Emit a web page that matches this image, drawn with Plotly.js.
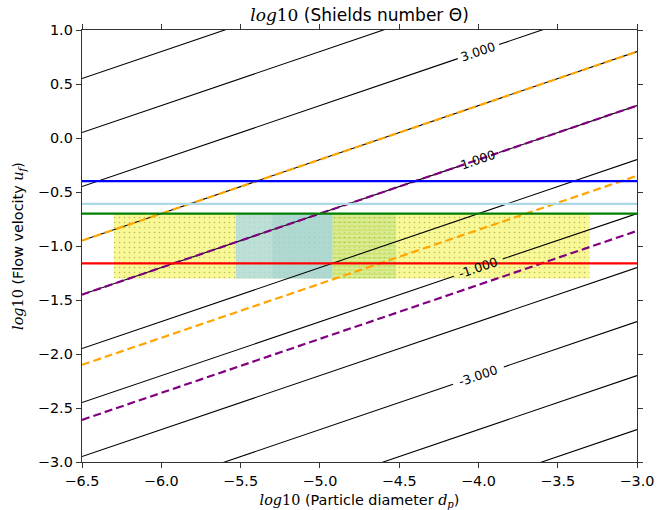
<!DOCTYPE html>
<html>
<head>
<meta charset="utf-8">
<script src="https://cdn.plot.ly/plotly-3.0.1.min.js"></script>
<style>html,body{margin:0;padding:0;background:#fff;}#chart{width:666px;height:510px;}</style>
</head>
<body>
<div id="chart"></div>
<script>
// ---- Contour lines of log10(Shields number) ----
const contourLevels = [-5, -4, -3, -2, -1, 0, 1, 2, 3, 4, 5];
const contourXLeft = [-6.5, -6.5, -6.5, -6.5, -6.5, -6.5, -6.5, -6.5, -6.5, -6.5, -6.5];
const contourYLeft = [-4.45, -3.95, -3.45, -2.95, -2.45, -1.95, -1.45, -0.95, -0.45, 0.05, 0.55];
const contourXRight = [-3.0, -3.0, -3.0, -3.0, -3.0, -3.0, -3.0, -3.0, -3.0, -3.0, -3.0];
const contourYRight = [-2.7, -2.2, -1.7, -1.2, -0.7, -0.2, 0.3, 0.8, 1.3, 1.8, 2.3];

// contour labels and the gaps they cut in their lines
const labelLevels = [3, 1, -1, -3];
const labelText = ['3.000', '1.000', '-1.000', '-3.000'];
const labelX = [-4.0, -4.0, -4.0, -4.0];
const labelY = [0.8, -0.2, -1.2, -2.2];
const gapX0 = [-4.13, -4.13, -4.155, -4.16];
const gapY0 = [0.735, -0.265, -1.28, -2.28];
const gapX1 = [-3.87, -3.87, -3.847, -3.84];
const gapY1 = [0.865, -0.135, -1.12, -2.12];

// ---- Dashed lines ----
const dashNames = ['orange upper', 'orange lower', 'purple upper', 'purple lower'];
const dashColors = ['orange', 'orange', 'purple', 'purple'];
const dashX0 = [-6.5, -6.5, -6.5, -6.5];
const dashY0 = [-0.95, -2.1, -1.45, -2.61];
const dashX1 = [-3.0, -3.0, -3.0, -3.0];
const dashY1 = [0.8, -0.35, 0.3, -0.86];

// ---- Horizontal flow-velocity lines ----
const hLineY = [-0.4, -0.61, -0.7, -1.16];
const hLineColors = ['#0000ff', '#add8e6', '#008000', '#ff0000'];
const hLineX0 = -6.5, hLineX1 = -3.0;

// ---- Shaded regions (x0, x1, y0, y1) ----
const regionNames = ['yellow', 'light teal', 'teal', 'green'];
const regionX0 = [-6.3, -5.53, -5.3, -4.92];
const regionX1 = [-3.3, -4.92, -4.92, -4.52];
const regionY0 = [-1.3, -1.3, -1.3, -1.3];
const regionY1 = [-0.7, -0.7, -0.7, -0.7];
const regionFill = ['rgb(248,248,150)', 'rgba(173,216,230,0.8)', 'rgba(100,180,180,0.15)', 'rgba(150,205,70,0.42)'];
const regionPattern = [
  {shape: '.', fgcolor: 'rgb(185,185,95)', bgcolor: 'rgb(248,248,150)', size: 5, solidity: 0.08},
  null,
  null,
  {shape: '-', fgcolor: 'rgba(255,255,255,0.35)', bgcolor: 'rgba(150,205,70,0.42)', size: 4, solidity: 0.35}
];

const traces = [];
// regions
for (let i = 0; i < regionNames.length; i++) {
  const t = {
    type: 'scatter', mode: 'lines', name: regionNames[i],
    x: [regionX0[i], regionX1[i], regionX1[i], regionX0[i], regionX0[i]],
    y: [regionY0[i], regionY0[i], regionY1[i], regionY1[i], regionY0[i]],
    fill: 'toself', fillcolor: regionFill[i], line: {width: 0},
    hoverinfo: 'skip', showlegend: false
  };
  if (regionPattern[i]) t.fillpattern = regionPattern[i];
  traces.push(t);
}
// contour lines
for (let i = 0; i < contourLevels.length; i++) {
  const k = labelLevels.indexOf(contourLevels[i]);
  let xs, ys;
  if (k >= 0) {
    xs = [contourXLeft[i], gapX0[k], null, gapX1[k], contourXRight[i]];
    ys = [contourYLeft[i], gapY0[k], null, gapY1[k], contourYRight[i]];
  } else {
    xs = [contourXLeft[i], contourXRight[i]];
    ys = [contourYLeft[i], contourYRight[i]];
  }
  traces.push({type: 'scatter', mode: 'lines', x: xs, y: ys, connectgaps: false,
    line: {color: 'black', width: 1.1}, showlegend: false, hoverinfo: 'skip'});
}
// dashed lines
for (let i = 0; i < dashNames.length; i++) {
  traces.push({type: 'scatter', mode: 'lines', name: dashNames[i],
    x: [dashX0[i], dashX1[i]], y: [dashY0[i], dashY1[i]],
    line: {color: dashColors[i], width: 2.2, dash: '8px,4px'}, showlegend: false, hoverinfo: 'skip'});
}
// horizontal lines
for (let i = 0; i < hLineY.length; i++) {
  traces.push({type: 'scatter', mode: 'lines',
    x: [hLineX0, hLineX1], y: [hLineY[i], hLineY[i]],
    line: {color: hLineColors[i], width: 2.3}, showlegend: false, hoverinfo: 'skip'});
}

const annotations = labelText.map((t, i) => ({
  x: labelX[i], y: labelY[i], xref: 'x', yref: 'y', text: t, showarrow: false,
  textangle: -18.8, xanchor: 'center', yanchor: 'middle',
  font: {family: 'DejaVu Sans', size: 12.5, color: 'black'}
}));

const mathLog = "<span style=\"font-family:'DejaVu Serif'\"><i>log</i>10</span>";

const axisCommon = {
  showgrid: false, zeroline: false, showline: true, mirror: 'ticks',
  linecolor: '#333', linewidth: 1.3, ticks: 'outside', ticklen: 5, tickwidth: 1,
  tickcolor: '#333', dtick: 0.5, tickformat: '.1f',
  tickfont: {family: 'DejaVu Sans', size: 14.4, color: 'black'}
};

const layout = {
  width: 666, height: 510,
  margin: {l: 82, r: 29, t: 30, b: 48},
  paper_bgcolor: 'white', plot_bgcolor: 'white',
  font: {family: 'DejaVu Sans', color: 'black'},
  title: {text: mathLog + ' (Shields number Θ)', x: 0.5, xref: 'paper', y: 1 - 15 / 510, yref: 'container',
    yanchor: 'middle', font: {family: 'DejaVu Sans', size: 17, color: 'black'}},
  xaxis: Object.assign({}, axisCommon, {range: [-6.5, -3.0], tick0: -6.5,
    title: {text: mathLog + ' (Particle diameter <span style="font-family:\'DejaVu Serif\'"><i>d<sub>p</sub></i></span>)',
      font: {family: 'DejaVu Sans', size: 14.4}, standoff: 8}}),
  yaxis: Object.assign({}, axisCommon, {range: [-3.0, 1.0], tick0: -3.0,
    title: {text: mathLog + ' (Flow velocity <span style="font-family:\'DejaVu Serif\'"><i>u<sub>f</sub></i></span>)',
      font: {family: 'DejaVu Sans', size: 14.4}, standoff: 10}}),
  annotations: annotations,
  showlegend: false
};

Plotly.newPlot('chart', traces, layout, {staticPlot: true, displayModeBar: false});
</script>
</body>
</html>
